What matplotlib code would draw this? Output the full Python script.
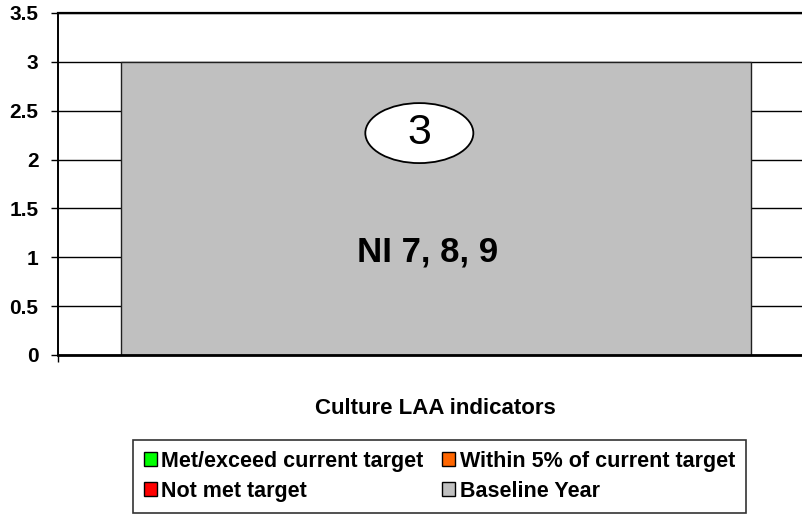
import matplotlib.pyplot as plt
from matplotlib.patches import Patch, Ellipse

plt.rcParams['font.family'] = ['Liberation Sans', 'DejaVu Sans']

categories = ['Culture LAA indicators']
series = ['Met/exceed current target', 'Within 5% of current target',
          'Not met target', 'Baseline Year']
colors = ['#00ff00', '#ff6600', '#ff0000', '#c0c0c0']
values = [0, 0, 0, 3]          # only the baseline series has data
bar_label = 'NI 7, 8, 9'
yticks = [0, 0.5, 1, 1.5, 2, 2.5, 3, 3.5]

fig = plt.figure(figsize=(8.03, 5.14), dpi=100)
ax = fig.add_axes([58 / 803, 1 - 355 / 514, 745 / 803, 342 / 514])

x = list(range(len(categories)))
bottom = [0] * len(categories)
for name, col, v in zip(series, colors, values):
    if v == 0:
        continue
    ax.bar(x, [v], width=0.846, bottom=bottom, color=col,
           edgecolor='#202020', linewidth=1, zorder=2)
    bottom = [b + v for b in bottom]
    # value bubble and indicator label inside the bar
    ax.add_patch(Ellipse((x[0] - 0.022, v * 0.757), 0.145, 0.614,
                         fc='white', ec='black', lw=1.3, zorder=3))
    ax.text(x[0] - 0.022, v * 0.757, str(v), ha='center', va='center',
            fontsize=31, zorder=4)
    ax.text(x[0] - 0.011, v * 0.35, bar_label, ha='center', va='center',
            fontsize=25, fontweight='bold', zorder=3)

ax.set_xlim(-0.507, 0.493)
ax.set_ylim(0, 3.5)
ax.set_yticks(yticks)
ax.set_yticklabels([f'{t:g}' for t in yticks], fontsize=15, fontweight='bold')
ax.yaxis.grid(True, color='black', linewidth=1)
ax.set_axisbelow(True)

ax.set_xticks(x)
ax.set_xticklabels(categories, fontsize=16, fontweight='bold')
ax.tick_params(axis='x', length=0, pad=31)
ax.set_xticks([-0.507], minor=True)
ax.tick_params(axis='x', which='minor', length=5, width=1)
ax.tick_params(axis='y', length=5, width=1, direction='out', pad=9)

ax.spines['right'].set_visible(False)
ax.spines['top'].set_linewidth(1.6)
ax.spines['left'].set_linewidth(1.4)
ax.spines['bottom'].set_linewidth(2)

handles = [Patch(facecolor=c, edgecolor='black', linewidth=1) for c in colors]
order = [0, 2, 1, 3]
leg = fig.legend([handles[i] for i in order], [series[i] for i in order],
                 loc='upper left', bbox_to_anchor=(133 / 803, 1 - 440 / 514),
                 ncol=2, prop={'weight': 'bold', 'size': 15.5},
                 frameon=True, fancybox=False, edgecolor='black',
                 handlelength=0.62, handleheight=0.62, handletextpad=0.2,
                 columnspacing=0.85, borderpad=0.5, labelspacing=0.42,
                 borderaxespad=0)
leg.get_frame().set_linewidth(1.2)

fig.savefig('out.png', dpi=100)
